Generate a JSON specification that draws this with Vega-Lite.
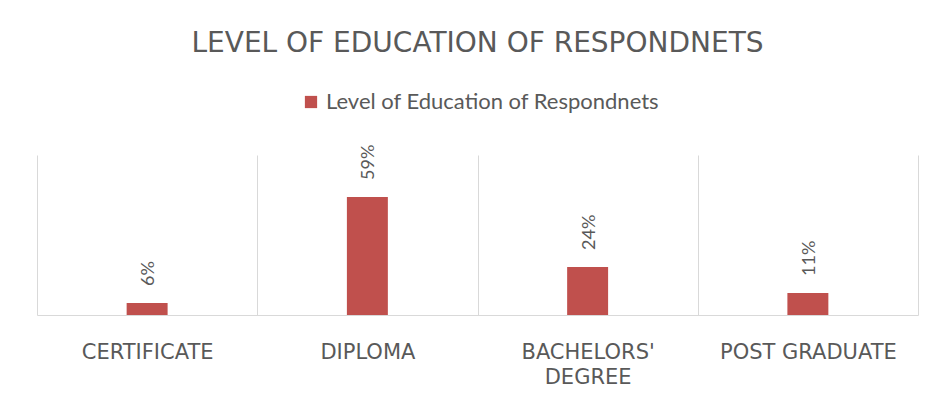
{
  "$schema": "https://vega.github.io/schema/vega-lite/v6.json",
  "autosize": {"type": "none"},
  "width": 881,
  "height": 160,
  "padding": {"left": 37, "top": 155, "right": 18, "bottom": 102},
  "background": "white",
  "title": {
    "text": "LEVEL OF EDUCATION OF RESPONDNETS",
    "font": "DejaVu Sans",
    "fontSize": 28,
    "fontWeight": "normal",
    "color": "#595959",
    "anchor": "middle",
    "offset": 33
  },
  "data": {
    "values": [
      {"level": "CERTIFICATE", "pct": 6, "label": "6%", "series": "Level of Education of Respondnets"},
      {"level": "DIPLOMA", "pct": 59, "label": "59%", "series": "Level of Education of Respondnets"},
      {"level": "BACHELORS' DEGREE", "pct": 24, "label": "24%", "series": "Level of Education of Respondnets"},
      {"level": "POST GRADUATE", "pct": 11, "label": "11%", "series": "Level of Education of Respondnets"}
    ]
  },
  "encoding": {
    "x": {
      "field": "level",
      "type": "nominal",
      "sort": null,
      "scale": {"paddingInner": 0, "paddingOuter": 0},
      "axis": {
        "title": null,
        "labelAngle": 0,
        "labelFont": "DejaVu Sans",
        "labelFontSize": 21,
        "labelColor": "#595959",
        "labelPadding": 26,
        "labelLineHeight": 25,
        "labelExpr": "indexof(datum.label, 'BACHELORS') >= 0 ? split(datum.label, ' ') : datum.label",
        "ticks": false,
        "grid": true,
        "gridColor": "#d9d9d9",
        "tickBand": "extent",
        "domainColor": "#d9d9d9"
      }
    },
    "y": {
      "field": "pct",
      "type": "quantitative",
      "scale": {"domain": [0, 80], "nice": false},
      "axis": null
    }
  },
  "layer": [
    {
      "mark": {"type": "bar", "width": {"band": 0.186}},
      "encoding": {
        "color": {
          "field": "series",
          "type": "nominal",
          "scale": {"range": ["#C0504D"]},
          "legend": {
            "title": null,
            "orient": "none",
            "legendX": 263,
            "legendY": -64,
            "symbolType": "square",
            "symbolSize": 150,
            "symbolStrokeWidth": 0,
            "labelFont": "Lato",
            "labelFontSize": 22,
            "labelColor": "#595959",
            "labelLimit": 500
          }
        }
      }
    },
    {
      "mark": {
        "type": "text",
        "angle": 270,
        "align": "left",
        "baseline": "middle",
        "dx": 17,
        "dy": 2,
        "font": "Lato",
        "fontSize": 18,
        "color": "#595959"
      },
      "encoding": {"text": {"field": "label"}}
    }
  ],
  "config": {"view": {"stroke": null}}
}
